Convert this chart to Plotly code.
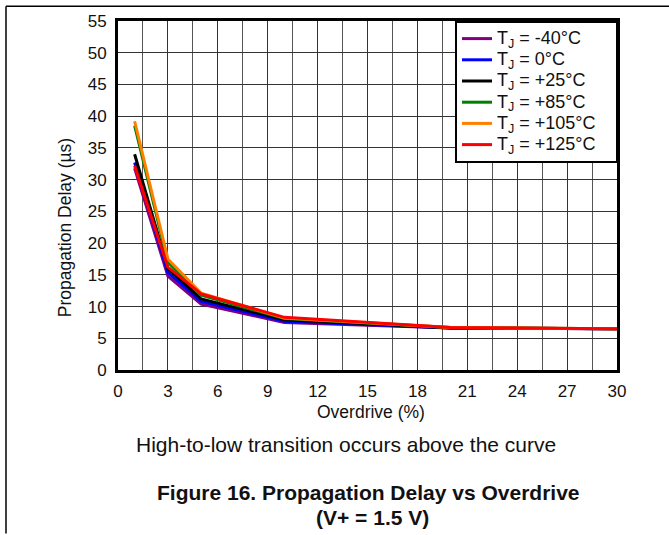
import plotly.graph_objects as go

overdrive = [1, 3, 5, 10, 20, 30]
delay_m40 = [31.8, 14.8, 10.4, 7.5, 6.6, 6.5]
delay_0 = [32.7, 15.4, 10.8, 7.7, 6.6, 6.5]
delay_25 = [34.0, 16.0, 11.2, 7.9, 6.6, 6.5]
delay_85 = [38.5, 17.0, 11.8, 8.1, 6.7, 6.5]
delay_105 = [39.2, 17.5, 12.1, 8.2, 6.7, 6.5]
delay_125 = [32.2, 16.2, 12.0, 8.3, 6.7, 6.5]

series_labels = ["-40°C", "0°C", "+25°C", "+85°C", "+105°C", "+125°C"]
series_vals = [delay_m40, delay_0, delay_25, delay_85, delay_105, delay_125]
colors = ["#800080", "#0000FF", "#000000", "#008000", "#FF7F00", "#FF0000"]

FONT = "Liberation Sans, Arial, sans-serif"
W, H = 669, 535
L, R, T, B = 118, 52, 18, 165
pw = W - L - R
ph = H - T - B

def px(xp):
    return (xp - L) / pw

def py(yp):
    return (H - B - yp) / ph

fig = go.Figure()
for lab, vals, c in zip(series_labels, series_vals, colors):
    name = ("<span style='font-size:18px'>T<sub>J</sub> = " + lab +
            "&nbsp;&nbsp;&nbsp;</span>")
    fig.add_trace(go.Scatter(x=overdrive, y=vals, mode="lines", name=name,
                             line=dict(color=c, width=3)))

fig.update_layout(
    width=W, height=H,
    margin=dict(l=L, r=R, t=T, b=B, pad=0),
    paper_bgcolor="white", plot_bgcolor="white",
    font=dict(family=FONT, size=17, color="#111"),
    showlegend=True,
    legend=dict(x=px(455), y=1.0, xanchor="left", yanchor="top",
                bordercolor="black", borderwidth=2, bgcolor="white",
                font=dict(size=14, color="#111"), tracegroupgap=0),
    xaxis=dict(range=[0, 30], dtick=3, tick0=0, showgrid=True, gridcolor="#333",
               gridwidth=1, minor=dict(dtick=1.5, showgrid=True, gridcolor="#555", gridwidth=1),
               showline=True, linecolor="black", linewidth=3, mirror=True,
               ticks="outside", ticklen=4, tickcolor="rgba(0,0,0,0)", zeroline=False,
               tickfont=dict(size=17)),
    yaxis=dict(range=[0, 55], dtick=5, tick0=0, showgrid=True, gridcolor="#333",
               gridwidth=1, showline=True, linecolor="black", linewidth=3, mirror=True,
               ticks="outside", ticklen=5, tickcolor="rgba(0,0,0,0)", zeroline=False,
               tickfont=dict(size=17)),
)

annos = [
    dict(text="Propagation Delay (µs)", x=px(65), y=py(227), textangle=-90, font=dict(size=17.5)),
    dict(text="Overdrive (%)", x=px(371), y=py(412), font=dict(size=17.5)),
    dict(text="High-to-low transition occurs above the curve", x=px(346), y=py(445), font=dict(size=21)),
    dict(text="<b>Figure 16. Propagation Delay vs Overdrive</b>", x=px(368), y=py(494), font=dict(size=21)),
    dict(text="<b>(V+ = 1.5 V)</b>", x=px(372), y=py(519), font=dict(size=21)),
]
for a in annos:
    fig.add_annotation(xref="paper", yref="paper", showarrow=False,
                       xanchor="center", yanchor="middle", **a)

fig.add_shape(type="line", xref="paper", yref="paper", x0=px(6), x1=px(669), y0=py(3), y1=py(3),
              line=dict(color="black", width=1.5))
fig.add_shape(type="line", xref="paper", yref="paper", x0=px(6), x1=px(6), y0=py(3), y1=py(535),
              line=dict(color="black", width=1.5))

fig.write_html("out.html", config={"displayModeBar": False},
               post_script="document.body.style.margin='0';document.body.style.padding='0';document.body.style.overflow='hidden';")
